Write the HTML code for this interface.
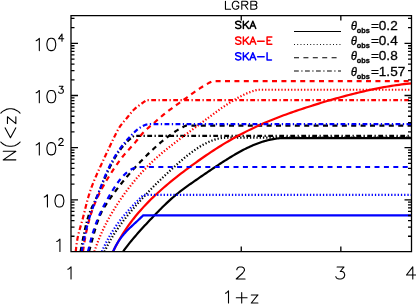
<!DOCTYPE html><html><head><meta charset="utf-8"><style>html,body{margin:0;padding:0;background:#fff;}svg{display:block;will-change:transform;}text{font-family:"Liberation Sans",sans-serif;}</style></head><body>
<svg width="416" height="304" viewBox="0 0 416 304">
<rect width="416" height="304" fill="#fff"/>
<defs><clipPath id="c"><rect x="71.0" y="15.6" width="340.5" height="236.4"/></clipPath></defs>
<g clip-path="url(#c)" fill="none" stroke-width="2.2" stroke-linejoin="round">
<path d="M123.10,251.60 L124.45,249.72 L125.80,247.89 L127.16,246.10 L128.51,244.36 L129.86,242.66 L131.21,240.99 L132.56,239.36 L133.92,237.75 L135.27,236.17 L136.62,234.61 L137.97,233.07 L139.33,231.55 L140.68,230.05 L142.03,228.56 L143.38,227.08 L144.73,225.62 L146.09,224.17 L147.44,222.72 L148.79,221.28 L150.14,219.85 L151.49,218.43 L152.85,217.01 L154.20,215.59 L155.55,214.19 L156.90,212.79 L158.25,211.40 L159.61,210.03 L160.96,208.67 L162.31,207.33 L163.66,206.00 L165.02,204.69 L166.37,203.40 L167.72,202.13 L169.07,200.88 L170.42,199.65 L171.78,198.44 L173.13,197.25 L174.48,196.09 L175.83,194.95 L177.18,193.84 L178.54,192.75 L179.89,191.68 L181.24,190.64 L182.59,189.61 L183.94,188.60 L185.30,187.60 L186.65,186.62 L188.00,185.65 L189.35,184.69 L190.71,183.74 L192.06,182.79 L193.41,181.85 L194.76,180.92 L196.11,179.98 L197.47,179.05 L198.82,178.12 L200.17,177.20 L201.52,176.27 L202.87,175.34 L204.23,174.41 L205.58,173.49 L206.93,172.56 L208.28,171.64 L209.63,170.72 L210.99,169.81 L212.34,168.90 L213.69,167.99 L215.04,167.09 L216.39,166.19 L217.75,165.30 L219.10,164.41 L220.45,163.53 L221.80,162.66 L223.16,161.79 L224.51,160.93 L225.86,160.07 L227.21,159.22 L228.56,158.38 L229.92,157.55 L231.27,156.73 L232.62,155.91 L233.97,155.11 L235.32,154.31 L236.68,153.53 L238.03,152.76 L239.38,152.01 L240.73,151.26 L242.08,150.54 L243.44,149.83 L244.79,149.13 L246.14,148.45 L247.49,147.79 L248.85,147.15 L250.20,146.52 L251.55,145.91 L252.90,145.32 L254.25,144.76 L255.61,144.21 L256.96,143.68 L258.31,143.18 L259.66,142.69 L261.01,142.23 L262.37,141.79 L263.72,141.37 L265.07,140.97 L266.42,140.60 L267.77,140.26 L269.13,139.93 L270.48,139.63 L271.83,139.36 L273.18,139.11 L274.54,138.89 L275.89,138.69 L277.24,138.52 L278.59,138.37 L279.94,138.25 L281.30,138.16 L282.65,138.10 L284.00,138.06 L411.50,138.06" stroke="#000"/>
<path d="M104.50,251.60 L105.52,249.45 L106.54,247.38 L107.56,245.39 L108.58,243.47 L109.61,241.62 L110.63,239.82 L111.65,238.07 L112.67,236.38 L113.69,234.73 L114.71,233.12 L115.73,231.55 L116.75,230.02 L117.77,228.52 L118.79,227.06 L119.82,225.62 L120.84,224.21 L121.86,222.82 L122.88,221.46 L123.90,220.12 L124.92,218.80 L125.94,217.50 L126.96,216.22 L127.98,214.95 L129.00,213.70 L130.03,212.46 L131.05,211.24 L132.07,210.03 L133.09,208.83 L134.11,207.64 L135.13,206.46 L136.15,205.30 L137.17,204.14 L138.19,202.99 L139.21,201.85 L140.24,200.71 L141.26,199.59 L142.28,198.47 L143.30,197.35 L144.32,196.25 L145.34,195.14 L146.36,194.05 L147.38,192.96 L148.40,191.88 L149.42,190.80 L150.45,189.73 L151.47,188.67 L152.49,187.62 L153.51,186.58 L154.53,185.54 L155.55,184.51 L156.57,183.49 L157.59,182.48 L158.61,181.48 L159.63,180.48 L160.66,179.50 L161.68,178.52 L162.70,177.55 L163.72,176.59 L164.74,175.63 L165.76,174.68 L166.78,173.73 L167.80,172.78 L168.82,171.84 L169.84,170.90 L170.87,169.97 L171.89,169.03 L172.91,168.09 L173.93,167.16 L174.95,166.23 L175.97,165.31 L176.99,164.39 L178.01,163.48 L179.03,162.58 L180.05,161.68 L181.08,160.79 L182.10,159.91 L183.12,159.04 L184.14,158.19 L185.16,157.34 L186.18,156.50 L187.20,155.68 L188.22,154.87 L189.24,154.07 L190.26,153.29 L191.29,152.52 L192.31,151.76 L193.33,151.02 L194.35,150.30 L195.37,149.59 L196.39,148.89 L197.41,148.22 L198.43,147.56 L199.45,146.92 L200.47,146.29 L201.50,145.68 L202.52,145.09 L203.54,144.52 L204.56,143.97 L205.58,143.43 L206.60,142.92 L207.62,142.43 L208.64,141.95 L209.66,141.50 L210.68,141.07 L211.71,140.67 L212.73,140.28 L213.75,139.93 L214.77,139.59 L215.79,139.29 L216.81,139.00 L217.83,138.75 L218.85,138.52 L219.87,138.31 L220.89,138.14 L221.92,137.99 L222.94,137.87 L223.96,137.78 L224.98,137.72 L226.00,137.69 L411.50,137.69" stroke="#000" stroke-dasharray="1.3 1.95"/>
<path d="M89.00,251.60 L89.82,248.81 L90.63,245.84 L91.45,242.80 L92.26,239.74 L93.08,236.71 L93.89,233.75 L94.71,230.88 L95.52,228.12 L96.34,225.48 L97.15,222.97 L97.97,220.61 L98.78,218.40 L99.60,216.34 L100.41,214.44 L101.23,212.69 L102.04,211.08 L102.86,209.58 L103.67,208.16 L104.49,206.82 L105.30,205.54 L106.12,204.29 L106.93,203.07 L107.75,201.86 L108.56,200.67 L109.38,199.49 L110.19,198.33 L111.01,197.17 L111.82,196.03 L112.64,194.90 L113.45,193.79 L114.27,192.68 L115.08,191.59 L115.90,190.50 L116.71,189.43 L117.53,188.36 L118.34,187.31 L119.16,186.26 L119.97,185.23 L120.79,184.20 L121.61,183.19 L122.42,182.18 L123.24,181.18 L124.05,180.19 L124.87,179.20 L125.68,178.23 L126.50,177.26 L127.31,176.30 L128.13,175.35 L128.94,174.40 L129.76,173.47 L130.57,172.54 L131.39,171.61 L132.20,170.69 L133.02,169.78 L133.83,168.88 L134.65,167.98 L135.46,167.09 L136.28,166.20 L137.09,165.32 L137.91,164.45 L138.72,163.58 L139.54,162.72 L140.35,161.86 L141.17,161.01 L141.98,160.16 L142.80,159.32 L143.61,158.49 L144.43,157.66 L145.24,156.83 L146.06,156.01 L146.87,155.20 L147.69,154.40 L148.50,153.60 L149.32,152.80 L150.13,152.02 L150.95,151.24 L151.76,150.46 L152.58,149.70 L153.39,148.94 L154.21,148.19 L155.03,147.45 L155.84,146.71 L156.66,145.98 L157.47,145.26 L158.29,144.55 L159.10,143.84 L159.92,143.14 L160.73,142.46 L161.55,141.77 L162.36,141.10 L163.18,140.43 L163.99,139.78 L164.81,139.13 L165.62,138.48 L166.44,137.85 L167.25,137.23 L168.07,136.61 L168.88,136.00 L169.70,135.40 L170.51,134.80 L171.33,134.22 L172.14,133.64 L172.96,133.08 L173.77,132.52 L174.59,131.98 L175.40,131.44 L176.22,130.91 L177.03,130.40 L177.85,129.90 L178.66,129.41 L179.48,128.93 L180.29,128.46 L181.11,128.01 L181.92,127.57 L182.74,127.15 L183.55,126.73 L184.37,126.33 L185.18,125.95 L186.00,125.58 L411.50,125.58" stroke="#000" stroke-dasharray="5 4.4"/>
<path d="M80.50,251.60 L80.95,249.38 L81.40,247.08 L81.85,244.74 L82.30,242.40 L82.75,240.06 L83.20,237.76 L83.65,235.51 L84.10,233.31 L84.55,231.18 L85.00,229.12 L85.45,227.13 L85.89,225.23 L86.34,223.42 L86.79,221.69 L87.24,220.05 L87.69,218.49 L88.14,217.02 L88.59,215.65 L89.04,214.35 L89.49,213.14 L89.94,211.98 L90.39,210.88 L90.84,209.82 L91.29,208.80 L91.74,207.80 L92.19,206.83 L92.64,205.87 L93.09,204.93 L93.54,203.99 L93.99,203.05 L94.44,202.11 L94.89,201.16 L95.34,200.21 L95.79,199.25 L96.24,198.27 L96.68,197.28 L97.13,196.27 L97.58,195.25 L98.03,194.21 L98.48,193.16 L98.93,192.10 L99.38,191.04 L99.83,189.96 L100.28,188.89 L100.73,187.81 L101.18,186.73 L101.63,185.66 L102.08,184.58 L102.53,183.51 L102.98,182.45 L103.43,181.39 L103.88,180.33 L104.33,179.29 L104.78,178.25 L105.23,177.22 L105.68,176.20 L106.13,175.19 L106.58,174.19 L107.03,173.20 L107.47,172.22 L107.92,171.26 L108.37,170.31 L108.82,169.36 L109.27,168.43 L109.72,167.52 L110.17,166.61 L110.62,165.72 L111.07,164.84 L111.52,163.98 L111.97,163.12 L112.42,162.28 L112.87,161.45 L113.32,160.64 L113.77,159.84 L114.22,159.05 L114.67,158.27 L115.12,157.51 L115.57,156.76 L116.02,156.02 L116.47,155.30 L116.92,154.59 L117.37,153.89 L117.82,153.21 L118.26,152.54 L118.71,151.88 L119.16,151.23 L119.61,150.60 L120.06,149.97 L120.51,149.37 L120.96,148.77 L121.41,148.19 L121.86,147.61 L122.31,147.05 L122.76,146.50 L123.21,145.96 L123.66,145.44 L124.11,144.92 L124.56,144.41 L125.01,143.92 L125.46,143.43 L125.91,142.96 L126.36,142.49 L126.81,142.03 L127.26,141.59 L127.71,141.15 L128.16,140.72 L128.61,140.30 L129.05,139.89 L129.50,139.49 L129.95,139.09 L130.40,138.71 L130.85,138.33 L131.30,137.96 L131.75,137.60 L132.20,137.25 L132.65,136.90 L133.10,136.56 L133.55,136.23 L134.00,135.91 L411.50,135.91" stroke="#000" stroke-dasharray="4.8 2.45 1.3 2.45"/>
<path d="M113.10,251.60 L115.61,246.56 L118.12,241.88 L120.62,237.51 L123.13,233.42 L125.64,229.57 L128.15,225.93 L130.65,222.48 L133.16,219.19 L135.67,216.06 L138.18,213.05 L140.68,210.16 L143.19,207.38 L145.70,204.70 L148.21,202.11 L150.71,199.59 L153.22,197.15 L155.73,194.78 L158.24,192.46 L160.74,190.20 L163.25,188.00 L165.76,185.84 L168.27,183.72 L170.77,181.65 L173.28,179.61 L175.79,177.60 L178.30,175.63 L180.80,173.69 L183.31,171.77 L185.82,169.88 L188.33,168.02 L190.83,166.17 L193.34,164.35 L195.85,162.54 L198.36,160.75 L200.86,158.98 L203.37,157.23 L205.88,155.51 L208.39,153.81 L210.89,152.13 L213.40,150.48 L215.91,148.86 L218.42,147.26 L220.93,145.70 L223.43,144.16 L225.94,142.65 L228.45,141.18 L230.96,139.73 L233.46,138.31 L235.97,136.92 L238.48,135.56 L240.99,134.22 L243.49,132.92 L246.00,131.63 L248.51,130.38 L251.02,129.15 L253.52,127.95 L256.03,126.77 L258.54,125.62 L261.05,124.49 L263.55,123.38 L266.06,122.31 L268.57,121.25 L271.08,120.21 L273.58,119.20 L276.09,118.21 L278.60,117.23 L281.11,116.28 L283.61,115.34 L286.12,114.42 L288.63,113.51 L291.14,112.62 L293.64,111.74 L296.15,110.88 L298.66,110.03 L301.17,109.19 L303.67,108.36 L306.18,107.54 L308.69,106.73 L311.20,105.93 L313.71,105.14 L316.21,104.36 L318.72,103.58 L321.23,102.82 L323.74,102.06 L326.24,101.31 L328.75,100.56 L331.26,99.83 L333.77,99.11 L336.27,98.39 L338.78,97.69 L341.29,97.00 L343.80,96.32 L346.30,95.65 L348.81,94.99 L351.32,94.34 L353.83,93.71 L356.33,93.09 L358.84,92.48 L361.35,91.89 L363.86,91.31 L366.36,90.74 L368.87,90.19 L371.38,89.65 L373.89,89.13 L376.39,88.63 L378.90,88.14 L381.41,87.66 L383.92,87.20 L386.42,86.76 L388.93,86.33 L391.44,85.93 L393.95,85.53 L396.45,85.16 L398.96,84.80 L401.47,84.46 L403.98,84.14 L406.48,83.84 L408.99,83.55 L411.50,83.29" stroke="#f00"/>
<path d="M94.40,251.60 L95.77,247.54 L97.14,243.74 L98.51,240.17 L99.88,236.80 L101.25,233.60 L102.62,230.55 L103.99,227.65 L105.36,224.86 L106.74,222.18 L108.11,219.60 L109.48,217.11 L110.85,214.69 L112.22,212.35 L113.59,210.08 L114.96,207.86 L116.33,205.70 L117.70,203.60 L119.07,201.53 L120.44,199.51 L121.81,197.53 L123.18,195.59 L124.55,193.68 L125.92,191.81 L127.29,189.97 L128.66,188.17 L130.04,186.40 L131.41,184.66 L132.78,182.95 L134.15,181.27 L135.52,179.63 L136.89,178.01 L138.26,176.43 L139.63,174.87 L141.00,173.34 L142.37,171.84 L143.74,170.37 L145.11,168.92 L146.48,167.50 L147.85,166.10 L149.22,164.73 L150.59,163.38 L151.96,162.06 L153.34,160.76 L154.71,159.49 L156.08,158.24 L157.45,157.01 L158.82,155.80 L160.19,154.61 L161.56,153.43 L162.93,152.28 L164.30,151.14 L165.67,150.01 L167.04,148.90 L168.41,147.79 L169.78,146.70 L171.15,145.62 L172.52,144.55 L173.89,143.48 L175.26,142.42 L176.64,141.37 L178.01,140.33 L179.38,139.29 L180.75,138.25 L182.12,137.22 L183.49,136.19 L184.86,135.17 L186.23,134.15 L187.60,133.13 L188.97,132.11 L190.34,131.09 L191.71,130.08 L193.08,129.06 L194.45,128.05 L195.82,127.03 L197.19,126.02 L198.56,125.01 L199.94,123.99 L201.31,122.98 L202.68,121.96 L204.05,120.95 L205.42,119.93 L206.79,118.91 L208.16,117.89 L209.53,116.87 L210.90,115.85 L212.27,114.84 L213.64,113.83 L215.01,112.82 L216.38,111.82 L217.75,110.84 L219.12,109.86 L220.49,108.89 L221.86,107.93 L223.24,106.98 L224.61,106.05 L225.98,105.12 L227.35,104.22 L228.72,103.33 L230.09,102.45 L231.46,101.59 L232.83,100.75 L234.20,99.93 L235.57,99.12 L236.94,98.34 L238.31,97.58 L239.68,96.83 L241.05,96.12 L242.42,95.43 L243.79,94.76 L245.16,94.12 L246.54,93.51 L247.91,92.93 L249.28,92.38 L250.65,91.86 L252.02,91.38 L253.39,90.92 L254.76,90.50 L256.13,90.12 L257.50,89.77 L411.50,89.77" stroke="#f00" stroke-dasharray="1.3 1.95"/>
<path d="M83.00,251.60 L84.09,244.00 L85.18,237.52 L86.26,231.91 L87.35,226.98 L88.44,222.60 L89.53,218.65 L90.62,215.05 L91.71,211.74 L92.79,208.67 L93.88,205.79 L94.97,203.09 L96.06,200.54 L97.15,198.11 L98.24,195.79 L99.32,193.56 L100.41,191.42 L101.50,189.35 L102.59,187.34 L103.68,185.38 L104.76,183.48 L105.85,181.61 L106.94,179.78 L108.03,177.99 L109.12,176.22 L110.21,174.48 L111.29,172.76 L112.38,171.07 L113.47,169.41 L114.56,167.78 L115.65,166.18 L116.74,164.61 L117.82,163.08 L118.91,161.58 L120.00,160.11 L121.09,158.68 L122.18,157.29 L123.26,155.93 L124.35,154.61 L125.44,153.33 L126.53,152.08 L127.62,150.85 L128.71,149.65 L129.79,148.45 L130.88,147.26 L131.97,146.06 L133.06,144.85 L134.15,143.62 L135.24,142.36 L136.32,141.08 L137.41,139.76 L138.50,138.41 L139.59,137.03 L140.68,135.64 L141.76,134.28 L142.85,133.01 L143.94,131.83 L145.03,130.75 L146.12,129.73 L147.21,128.77 L148.29,127.84 L149.38,126.93 L150.47,126.02 L151.56,125.10 L152.65,124.16 L153.74,123.20 L154.82,122.23 L155.91,121.25 L157.00,120.27 L158.09,119.30 L159.18,118.34 L160.26,117.41 L161.35,116.49 L162.44,115.59 L163.53,114.70 L164.62,113.83 L165.71,112.97 L166.79,112.12 L167.88,111.28 L168.97,110.45 L170.06,109.63 L171.15,108.82 L172.24,108.02 L173.32,107.22 L174.41,106.43 L175.50,105.64 L176.59,104.86 L177.68,104.08 L178.76,103.31 L179.85,102.54 L180.94,101.76 L182.03,100.99 L183.12,100.21 L184.21,99.43 L185.29,98.64 L186.38,97.85 L187.47,97.06 L188.56,96.27 L189.65,95.48 L190.74,94.70 L191.82,93.91 L192.91,93.13 L194.00,92.36 L195.09,91.60 L196.18,90.84 L197.26,90.10 L198.35,89.36 L199.44,88.64 L200.53,87.93 L201.62,87.23 L202.71,86.55 L203.79,85.89 L204.88,85.24 L205.97,84.60 L207.06,83.99 L208.15,83.39 L209.24,82.81 L210.32,82.26 L211.41,81.72 L212.50,81.20 L411.50,81.20" stroke="#f00" stroke-dasharray="5 4.4"/>
<path d="M75.75,251.60 L76.34,245.94 L76.93,241.69 L77.53,238.32 L78.12,235.53 L78.71,233.08 L79.30,230.85 L79.90,228.73 L80.49,226.66 L81.08,224.59 L81.67,222.50 L82.27,220.36 L82.86,218.16 L83.45,215.90 L84.04,213.56 L84.64,211.17 L85.23,208.78 L85.82,206.41 L86.41,204.08 L87.01,201.81 L87.60,199.62 L88.19,197.51 L88.78,195.49 L89.38,193.56 L89.97,191.73 L90.56,189.98 L91.15,188.30 L91.75,186.67 L92.34,185.10 L92.93,183.58 L93.52,182.10 L94.12,180.65 L94.71,179.23 L95.30,177.83 L95.89,176.46 L96.49,175.11 L97.08,173.77 L97.67,172.45 L98.26,171.14 L98.86,169.83 L99.45,168.54 L100.04,167.25 L100.63,165.96 L101.22,164.68 L101.82,163.40 L102.41,162.12 L103.00,160.85 L103.59,159.57 L104.19,158.30 L104.78,157.03 L105.37,155.76 L105.96,154.49 L106.56,153.23 L107.15,151.97 L107.74,150.71 L108.33,149.46 L108.93,148.21 L109.52,146.96 L110.11,145.71 L110.70,144.47 L111.30,143.23 L111.89,142.00 L112.48,140.76 L113.07,139.53 L113.67,138.31 L114.26,137.09 L114.85,135.87 L115.44,134.67 L116.04,133.48 L116.63,132.33 L117.22,131.20 L117.81,130.11 L118.41,129.06 L119.00,128.06 L119.59,127.10 L120.18,126.20 L120.78,125.35 L121.37,124.55 L121.96,123.78 L122.55,123.05 L123.14,122.33 L123.74,121.64 L124.33,120.95 L124.92,120.27 L125.51,119.60 L126.11,118.91 L126.70,118.22 L127.29,117.51 L127.88,116.79 L128.48,116.05 L129.07,115.29 L129.66,114.54 L130.25,113.79 L130.85,113.05 L131.44,112.33 L132.03,111.63 L132.62,110.97 L133.22,110.35 L133.81,109.75 L134.40,109.19 L134.99,108.65 L135.59,108.13 L136.18,107.63 L136.77,107.16 L137.36,106.69 L137.96,106.24 L138.55,105.80 L139.14,105.37 L139.73,104.94 L140.33,104.52 L140.92,104.10 L141.51,103.68 L142.10,103.25 L142.70,102.83 L143.29,102.40 L143.88,101.96 L144.47,101.51 L145.07,101.05 L145.66,100.58 L146.25,100.10 L411.50,100.10" stroke="#f00" stroke-dasharray="4.8 2.45 1.3 2.45"/>
<path d="M113.10,251.60 L113.35,251.02 L113.60,250.45 L113.86,249.90 L114.11,249.35 L114.36,248.82 L114.61,248.29 L114.86,247.78 L115.12,247.27 L115.37,246.78 L115.62,246.29 L115.87,245.82 L116.13,245.35 L116.38,244.89 L116.63,244.44 L116.88,244.00 L117.13,243.56 L117.39,243.14 L117.64,242.72 L117.89,242.30 L118.14,241.90 L118.39,241.50 L118.65,241.11 L118.90,240.72 L119.15,240.34 L119.40,239.97 L119.65,239.60 L119.91,239.24 L120.16,238.88 L120.41,238.53 L120.66,238.18 L120.92,237.84 L121.17,237.51 L121.42,237.17 L121.67,236.85 L121.92,236.52 L122.18,236.21 L122.43,235.89 L122.68,235.58 L122.93,235.27 L123.18,234.97 L123.44,234.67 L123.69,234.38 L123.94,234.08 L124.19,233.79 L124.44,233.51 L124.70,233.23 L124.95,232.94 L125.20,232.67 L125.45,232.39 L125.71,232.12 L125.96,231.85 L126.21,231.58 L126.46,231.32 L126.71,231.06 L126.97,230.79 L127.22,230.54 L127.47,230.28 L127.72,230.02 L127.97,229.77 L128.23,229.52 L128.48,229.27 L128.73,229.02 L128.98,228.77 L129.23,228.53 L129.49,228.28 L129.74,228.04 L129.99,227.80 L130.24,227.56 L130.49,227.32 L130.75,227.08 L131.00,226.84 L131.25,226.60 L131.50,226.36 L131.76,226.13 L132.01,225.89 L132.26,225.66 L132.51,225.42 L132.76,225.19 L133.02,224.95 L133.27,224.72 L133.52,224.49 L133.77,224.25 L134.02,224.02 L134.28,223.79 L134.53,223.56 L134.78,223.32 L135.03,223.09 L135.28,222.86 L135.54,222.63 L135.79,222.39 L136.04,222.16 L136.29,221.93 L136.55,221.69 L136.80,221.46 L137.05,221.22 L137.30,220.99 L137.55,220.75 L137.81,220.52 L138.06,220.28 L138.31,220.05 L138.56,219.81 L138.81,219.57 L139.07,219.33 L139.32,219.09 L139.57,218.85 L139.82,218.61 L140.07,218.37 L140.33,218.13 L140.58,217.89 L140.83,217.64 L141.08,217.40 L141.34,217.15 L141.59,216.90 L141.84,216.66 L142.09,216.41 L142.34,216.16 L142.60,215.91 L142.85,215.65 L143.10,215.40 L411.50,215.40" stroke="#00f"/>
<path d="M101.90,251.60 L102.25,250.80 L102.60,250.01 L102.95,249.23 L103.30,248.46 L103.65,247.70 L104.00,246.95 L104.35,246.21 L104.70,245.48 L105.05,244.77 L105.40,244.06 L105.75,243.36 L106.09,242.67 L106.44,241.98 L106.79,241.31 L107.14,240.64 L107.49,239.99 L107.84,239.34 L108.19,238.70 L108.54,238.06 L108.89,237.43 L109.24,236.81 L109.59,236.20 L109.94,235.60 L110.29,235.00 L110.64,234.40 L110.99,233.82 L111.34,233.24 L111.69,232.67 L112.04,232.10 L112.39,231.54 L112.74,230.98 L113.09,230.43 L113.44,229.89 L113.79,229.35 L114.14,228.82 L114.48,228.29 L114.83,227.76 L115.18,227.25 L115.53,226.73 L115.88,226.23 L116.23,225.72 L116.58,225.22 L116.93,224.73 L117.28,224.24 L117.63,223.76 L117.98,223.28 L118.33,222.80 L118.68,222.33 L119.03,221.86 L119.38,221.39 L119.73,220.93 L120.08,220.48 L120.43,220.03 L120.78,219.58 L121.13,219.13 L121.48,218.69 L121.83,218.25 L122.18,217.81 L122.53,217.38 L122.87,216.95 L123.22,216.53 L123.57,216.10 L123.92,215.68 L124.27,215.26 L124.62,214.85 L124.97,214.43 L125.32,214.02 L125.67,213.61 L126.02,213.21 L126.37,212.80 L126.72,212.40 L127.07,212.00 L127.42,211.60 L127.77,211.21 L128.12,210.81 L128.47,210.42 L128.82,210.03 L129.17,209.64 L129.52,209.26 L129.87,208.87 L130.22,208.49 L130.57,208.11 L130.92,207.73 L131.26,207.35 L131.61,206.97 L131.96,206.59 L132.31,206.22 L132.66,205.85 L133.01,205.48 L133.36,205.11 L133.71,204.74 L134.06,204.37 L134.41,204.00 L134.76,203.64 L135.11,203.27 L135.46,202.91 L135.81,202.55 L136.16,202.19 L136.51,201.83 L136.86,201.47 L137.21,201.12 L137.56,200.76 L137.91,200.41 L138.26,200.06 L138.61,199.70 L138.96,199.35 L139.31,199.00 L139.65,198.65 L140.00,198.31 L140.35,197.96 L140.70,197.61 L141.05,197.27 L141.40,196.92 L141.75,196.58 L142.10,196.24 L142.45,195.90 L142.80,195.56 L143.15,195.22 L143.50,194.88 L411.50,194.88" stroke="#00f" stroke-dasharray="1.3 1.95"/>
<path d="M88.00,251.60 L88.43,249.71 L88.85,247.87 L89.28,246.08 L89.71,244.35 L90.13,242.67 L90.56,241.03 L90.99,239.43 L91.41,237.88 L91.84,236.38 L92.26,234.91 L92.69,233.48 L93.12,232.08 L93.54,230.72 L93.97,229.40 L94.40,228.10 L94.82,226.84 L95.25,225.61 L95.68,224.41 L96.10,223.24 L96.53,222.09 L96.96,220.97 L97.38,219.88 L97.81,218.81 L98.24,217.77 L98.66,216.74 L99.09,215.74 L99.51,214.76 L99.94,213.80 L100.37,212.85 L100.79,211.93 L101.22,211.01 L101.65,210.12 L102.07,209.24 L102.50,208.37 L102.93,207.52 L103.35,206.68 L103.78,205.85 L104.21,205.03 L104.63,204.23 L105.06,203.43 L105.49,202.65 L105.91,201.87 L106.34,201.10 L106.76,200.34 L107.19,199.58 L107.62,198.83 L108.04,198.09 L108.47,197.35 L108.90,196.62 L109.32,195.89 L109.75,195.16 L110.18,194.44 L110.60,193.73 L111.03,193.01 L111.46,192.30 L111.88,191.60 L112.31,190.90 L112.74,190.21 L113.16,189.52 L113.59,188.84 L114.01,188.17 L114.44,187.51 L114.87,186.85 L115.29,186.20 L115.72,185.56 L116.15,184.93 L116.57,184.31 L117.00,183.70 L117.43,183.09 L117.85,182.50 L118.28,181.92 L118.71,181.34 L119.13,180.78 L119.56,180.22 L119.99,179.68 L120.41,179.15 L120.84,178.63 L121.26,178.12 L121.69,177.62 L122.12,177.13 L122.54,176.65 L122.97,176.18 L123.40,175.73 L123.82,175.28 L124.25,174.85 L124.68,174.43 L125.10,174.02 L125.53,173.62 L125.96,173.23 L126.38,172.86 L126.81,172.49 L127.24,172.14 L127.66,171.80 L128.09,171.47 L128.51,171.15 L128.94,170.84 L129.37,170.55 L129.79,170.27 L130.22,170.00 L130.65,169.74 L131.07,169.49 L131.50,169.25 L131.93,169.03 L132.35,168.81 L132.78,168.61 L133.21,168.42 L133.63,168.24 L134.06,168.08 L134.49,167.92 L134.91,167.78 L135.34,167.65 L135.76,167.52 L136.19,167.41 L136.62,167.32 L137.04,167.23 L137.47,167.15 L137.90,167.09 L138.32,167.04 L138.75,166.99 L411.50,166.99" stroke="#00f" stroke-dasharray="5 4.4"/>
<path d="M81.70,251.60 L82.28,248.50 L82.85,245.48 L83.43,242.55 L84.00,239.71 L84.58,236.97 L85.16,234.33 L85.73,231.78 L86.31,229.34 L86.88,226.99 L87.46,224.74 L88.04,222.58 L88.61,220.51 L89.19,218.53 L89.76,216.64 L90.34,214.84 L90.92,213.11 L91.49,211.44 L92.07,209.83 L92.64,208.26 L93.22,206.72 L93.80,205.21 L94.37,203.71 L94.95,202.22 L95.53,200.74 L96.10,199.26 L96.68,197.77 L97.25,196.28 L97.83,194.77 L98.41,193.26 L98.98,191.73 L99.56,190.21 L100.13,188.68 L100.71,187.17 L101.29,185.66 L101.86,184.16 L102.44,182.67 L103.01,181.20 L103.59,179.75 L104.17,178.33 L104.74,176.92 L105.32,175.54 L105.89,174.18 L106.47,172.84 L107.05,171.54 L107.62,170.26 L108.20,169.01 L108.77,167.79 L109.35,166.59 L109.93,165.43 L110.50,164.28 L111.08,163.17 L111.65,162.08 L112.23,161.01 L112.81,159.96 L113.38,158.94 L113.96,157.94 L114.53,156.96 L115.11,156.00 L115.69,155.06 L116.26,154.14 L116.84,153.24 L117.42,152.36 L117.99,151.49 L118.57,150.65 L119.14,149.82 L119.72,149.01 L120.30,148.21 L120.87,147.44 L121.45,146.67 L122.02,145.92 L122.60,145.19 L123.18,144.47 L123.75,143.76 L124.33,143.06 L124.90,142.37 L125.48,141.69 L126.06,141.03 L126.63,140.37 L127.21,139.71 L127.78,139.07 L128.36,138.43 L128.94,137.80 L129.51,137.18 L130.09,136.56 L130.66,135.95 L131.24,135.35 L131.82,134.76 L132.39,134.17 L132.97,133.60 L133.54,133.04 L134.12,132.48 L134.70,131.94 L135.27,131.42 L135.85,130.90 L136.42,130.40 L137.00,129.92 L137.58,129.45 L138.15,128.99 L138.73,128.55 L139.31,128.13 L139.88,127.73 L140.46,127.34 L141.03,126.97 L141.61,126.63 L142.19,126.30 L142.76,125.99 L143.34,125.71 L143.91,125.45 L144.49,125.20 L145.07,124.99 L145.64,124.79 L146.22,124.62 L146.79,124.47 L147.37,124.35 L147.95,124.25 L148.52,124.17 L149.10,124.12 L149.67,124.10 L150.25,124.10 L411.50,124.10" stroke="#00f" stroke-dasharray="4.8 2.45 1.3 2.45"/>
</g>
<path d="M71.0,15.6 H411.5 V251.6 H71.0 Z M241.25,251.6 v-5 M241.25,15.6 v5 M340.84,251.6 v-5 M340.84,15.6 v5 M71.0,251.60 h7 M411.5,251.60 h-7 M71.0,236.25 h3.5 M411.5,236.25 h-3.5 M71.0,227.07 h3.5 M411.5,227.07 h-3.5 M71.0,220.55 h3.5 M411.5,220.55 h-3.5 M71.0,215.50 h3.5 M411.5,215.50 h-3.5 M71.0,211.37 h3.5 M411.5,211.37 h-3.5 M71.0,207.88 h3.5 M411.5,207.88 h-3.5 M71.0,204.85 h3.5 M411.5,204.85 h-3.5 M71.0,202.19 h3.5 M411.5,202.19 h-3.5 M71.0,199.80 h7 M411.5,199.80 h-7 M71.0,184.10 h3.5 M411.5,184.10 h-3.5 M71.0,174.92 h3.5 M411.5,174.92 h-3.5 M71.0,168.40 h3.5 M411.5,168.40 h-3.5 M71.0,163.35 h3.5 M411.5,163.35 h-3.5 M71.0,159.22 h3.5 M411.5,159.22 h-3.5 M71.0,155.73 h3.5 M411.5,155.73 h-3.5 M71.0,152.70 h3.5 M411.5,152.70 h-3.5 M71.0,150.04 h3.5 M411.5,150.04 h-3.5 M71.0,147.65 h7 M411.5,147.65 h-7 M71.0,131.95 h3.5 M411.5,131.95 h-3.5 M71.0,122.77 h3.5 M411.5,122.77 h-3.5 M71.0,116.25 h3.5 M411.5,116.25 h-3.5 M71.0,111.20 h3.5 M411.5,111.20 h-3.5 M71.0,107.07 h3.5 M411.5,107.07 h-3.5 M71.0,103.58 h3.5 M411.5,103.58 h-3.5 M71.0,100.55 h3.5 M411.5,100.55 h-3.5 M71.0,97.89 h3.5 M411.5,97.89 h-3.5 M71.0,95.50 h7 M411.5,95.50 h-7 M71.0,79.80 h3.5 M411.5,79.80 h-3.5 M71.0,70.62 h3.5 M411.5,70.62 h-3.5 M71.0,64.10 h3.5 M411.5,64.10 h-3.5 M71.0,59.05 h3.5 M411.5,59.05 h-3.5 M71.0,54.92 h3.5 M411.5,54.92 h-3.5 M71.0,51.43 h3.5 M411.5,51.43 h-3.5 M71.0,48.40 h3.5 M411.5,48.40 h-3.5 M71.0,45.74 h3.5 M411.5,45.74 h-3.5 M71.0,43.35 h7 M411.5,43.35 h-7 M71.0,27.65 h3.5 M411.5,27.65 h-3.5 M71.0,18.47 h3.5 M411.5,18.47 h-3.5" fill="none" stroke="#000" stroke-width="1.3"/>
<path d="M36.18,40.66 L37.44,40.07 L39.33,38.31 L39.33,50.60 M50.67,38.31 L48.78,38.90 L47.52,40.66 L46.89,43.58 L46.89,45.34 L47.52,48.26 L48.78,50.02 L50.67,50.60 L51.93,50.60 L53.82,50.02 L55.08,48.26 L55.71,45.34 L55.71,43.58 L55.08,40.66 L53.82,38.90 L51.93,38.31 L50.67,38.31 M62.02,34.11 L58.62,38.80 L63.72,38.80 M62.02,34.11 L62.02,41.15 M36.18,92.81 L37.44,92.22 L39.33,90.47 L39.33,102.75 M50.67,90.47 L48.78,91.05 L47.52,92.81 L46.89,95.73 L46.89,97.48 L47.52,100.41 L48.78,102.17 L50.67,102.75 L51.93,102.75 L53.82,102.17 L55.08,100.41 L55.71,97.48 L55.71,95.73 L55.08,92.81 L53.82,91.05 L51.93,90.47 L50.67,90.47 M59.30,86.27 L63.04,86.27 L61.00,88.95 L62.02,88.95 L62.70,89.28 L63.04,89.62 L63.38,90.62 L63.38,91.29 L63.04,92.30 L62.36,92.97 L61.34,93.30 L60.32,93.30 L59.30,92.97 L58.96,92.63 L58.62,91.96 M36.18,144.96 L37.44,144.37 L39.33,142.62 L39.33,154.90 M50.67,142.62 L48.78,143.20 L47.52,144.96 L46.89,147.88 L46.89,149.64 L47.52,152.56 L48.78,154.31 L50.67,154.90 L51.93,154.90 L53.82,154.31 L55.08,152.56 L55.71,149.64 L55.71,147.88 L55.08,144.96 L53.82,143.20 L51.93,142.62 L50.67,142.62 M58.96,140.09 L58.96,139.76 L59.30,139.09 L59.64,138.75 L60.32,138.42 L61.68,138.42 L62.36,138.75 L62.70,139.09 L63.04,139.76 L63.04,140.43 L62.70,141.10 L62.02,142.10 L58.62,145.45 L63.38,145.45 M44.28,197.10 L45.54,196.52 L47.43,194.76 L47.43,207.05 M58.77,194.76 L56.88,195.35 L55.62,197.10 L54.99,200.03 L54.99,201.78 L55.62,204.71 L56.88,206.46 L58.77,207.05 L60.03,207.05 L61.92,206.46 L63.18,204.71 L63.81,201.78 L63.81,200.03 L63.18,197.10 L61.92,195.35 L60.03,194.76 L58.77,194.76 M56.78,241.50 L58.04,240.92 L59.93,239.16 L59.93,251.45 M67.88,269.23 L69.14,268.65 L71.03,266.93 L71.03,279.00 M236.87,269.80 L236.87,269.23 L237.50,268.07 L238.13,267.50 L239.39,266.93 L241.91,266.93 L243.17,267.50 L243.80,268.07 L244.43,269.23 L244.43,270.38 L243.80,271.52 L242.54,273.25 L236.24,279.00 L245.06,279.00 M337.09,266.93 L344.02,266.93 L340.24,271.52 L342.13,271.52 L343.39,272.10 L344.02,272.68 L344.65,274.40 L344.65,275.55 L344.02,277.27 L342.76,278.43 L340.87,279.00 L338.98,279.00 L337.09,278.43 L336.46,277.85 L335.83,276.70 M412.79,266.93 L406.49,274.98 L415.94,274.98 M412.79,266.93 L412.79,279.00 M225.50,293.23 L226.70,292.65 L228.50,290.93 L228.50,303.00 M241.70,292.65 L241.70,303.00 M236.30,297.82 L247.10,297.82 M257.90,294.95 L251.30,303.00 M251.30,294.95 L257.90,294.95 M251.30,303.00 L257.90,303.00 M3.25,159.84 L15.85,159.84 M3.25,159.84 L15.85,151.23 M3.25,151.23 L15.85,151.23 M0.85,142.01 L2.05,143.24 L3.85,144.47 L6.25,145.70 L9.25,146.31 L11.65,146.31 L14.65,145.70 L17.05,144.47 L18.85,143.24 L20.05,142.01 M5.05,127.86 L10.45,137.70 L15.85,127.86 M7.45,116.79 L15.85,123.56 M7.45,123.56 L7.45,116.79 M15.85,123.56 L15.85,116.79 M0.85,113.10 L2.05,111.87 L3.85,110.64 L6.25,109.41 L9.25,108.80 L11.65,108.80 L14.65,109.41 L17.05,110.64 L18.85,111.87 L20.05,113.10 M225.45,1.22 L225.45,9.20 M225.45,9.20 L230.61,9.20 M238.78,3.12 L238.35,2.36 L237.49,1.60 L236.63,1.22 L234.91,1.22 L234.05,1.60 L233.19,2.36 L232.76,3.12 L232.33,4.26 L232.33,6.16 L232.76,7.30 L233.19,8.06 L234.05,8.82 L234.91,9.20 L236.63,9.20 L237.49,8.82 L238.35,8.06 L238.78,7.30 L238.78,6.16 M236.63,6.16 L238.78,6.16 M241.79,1.22 L241.79,9.20 M241.79,1.22 L245.66,1.22 L246.95,1.60 L247.38,1.98 L247.81,2.74 L247.81,3.50 L247.38,4.26 L246.95,4.64 L245.66,5.02 L241.79,5.02 M244.80,5.02 L247.81,9.20 M250.82,1.22 L250.82,9.20 M250.82,1.22 L254.69,1.22 L255.98,1.60 L256.41,1.98 L256.84,2.74 L256.84,3.50 L256.41,4.26 L255.98,4.64 L254.69,5.02 M250.82,5.02 L254.69,5.02 L255.98,5.40 L256.41,5.78 L256.84,6.54 L256.84,7.68 L256.41,8.44 L255.98,8.82 L254.69,9.20 L250.82,9.20" fill="none" stroke="#000" stroke-width="1.1" stroke-linecap="round" stroke-linejoin="round"/>
<path d="M240.81,22.33 L240.07,21.65 L238.98,21.31 L237.52,21.31 L236.42,21.65 L235.69,22.33 L235.69,23.01 L236.06,23.69 L236.42,24.03 L237.16,24.37 L239.34,25.05 L240.07,25.39 L240.44,25.73 L240.81,26.41 L240.81,27.43 L240.07,28.11 L238.98,28.45 L237.52,28.45 L236.42,28.11 L235.69,27.43 M243.36,21.31 L243.36,28.45 M248.47,21.31 L243.36,26.07 M245.19,24.37 L248.47,28.45 M252.85,21.31 L249.93,28.45 M252.85,21.31 L255.77,28.45 M251.03,26.07 L254.67,26.07" fill="none" stroke="#000" stroke-width="1.5" stroke-linecap="round" stroke-linejoin="round"/>
<path d="M240.81,38.08 L240.07,37.40 L238.98,37.06 L237.52,37.06 L236.42,37.40 L235.69,38.08 L235.69,38.76 L236.06,39.44 L236.42,39.78 L237.16,40.12 L239.34,40.80 L240.07,41.14 L240.44,41.48 L240.81,42.16 L240.81,43.18 L240.07,43.86 L238.98,44.20 L237.52,44.20 L236.42,43.86 L235.69,43.18 M243.36,37.06 L243.36,44.20 M248.47,37.06 L243.36,41.82 M245.19,40.12 L248.47,44.20 M252.85,37.06 L249.93,44.20 M252.85,37.06 L255.77,44.20 M251.03,41.82 L254.67,41.82 M257.59,41.14 L264.16,41.14 M267.08,37.06 L267.08,44.20 M267.08,37.06 L271.83,37.06 M267.08,40.46 L270.00,40.46 M267.08,44.20 L271.83,44.20" fill="none" stroke="#f00" stroke-width="1.5" stroke-linecap="round" stroke-linejoin="round"/>
<path d="M240.81,53.78 L240.07,53.10 L238.98,52.76 L237.52,52.76 L236.42,53.10 L235.69,53.78 L235.69,54.46 L236.06,55.14 L236.42,55.48 L237.16,55.82 L239.34,56.50 L240.07,56.84 L240.44,57.18 L240.81,57.86 L240.81,58.88 L240.07,59.56 L238.98,59.90 L237.52,59.90 L236.42,59.56 L235.69,58.88 M243.36,52.76 L243.36,59.90 M248.47,52.76 L243.36,57.52 M245.19,55.82 L248.47,59.90 M252.85,52.76 L249.93,59.90 M252.85,52.76 L255.77,59.90 M251.03,57.52 L254.67,57.52 M257.59,56.84 L264.16,56.84 M267.08,52.76 L267.08,59.90 M267.08,59.90 L271.46,59.90" fill="none" stroke="#00f" stroke-width="1.5" stroke-linecap="round" stroke-linejoin="round"/>
<path d="M294,31.5 H341" stroke="#000" stroke-width="1.1" fill="none"/>
<text x="351.0" y="29.7" font-size="12" font-style="italic" stroke="#000" stroke-width="0.4" textLength="5.9" lengthAdjust="spacingAndGlyphs">θ</text>
<text x="356.8" y="32.6" font-size="7.2" font-weight="bold" stroke="#000" stroke-width="0.3" textLength="13" lengthAdjust="spacingAndGlyphs">obs</text>
<text x="370.9" y="29.7" font-size="12.6" stroke="#000" stroke-width="0.3" textLength="26.81" lengthAdjust="spacingAndGlyphs">=0.2</text>
<path d="M294,44.5 H341" stroke="#000" stroke-width="1.1" fill="none" stroke-dasharray="0.9 2.35"/>
<text x="351.0" y="44.7" font-size="12" font-style="italic" stroke="#000" stroke-width="0.4" textLength="5.9" lengthAdjust="spacingAndGlyphs">θ</text>
<text x="356.8" y="47.6" font-size="7.2" font-weight="bold" stroke="#000" stroke-width="0.3" textLength="13" lengthAdjust="spacingAndGlyphs">obs</text>
<text x="370.9" y="44.7" font-size="12.6" stroke="#000" stroke-width="0.3" textLength="26.81" lengthAdjust="spacingAndGlyphs">=0.4</text>
<path d="M294,57.75 H341" stroke="#000" stroke-width="1.1" fill="none" stroke-dasharray="5 4.4"/>
<text x="351.0" y="60.2" font-size="12" font-style="italic" stroke="#000" stroke-width="0.4" textLength="5.9" lengthAdjust="spacingAndGlyphs">θ</text>
<text x="356.8" y="63.1" font-size="7.2" font-weight="bold" stroke="#000" stroke-width="0.3" textLength="13" lengthAdjust="spacingAndGlyphs">obs</text>
<text x="370.9" y="60.2" font-size="12.6" stroke="#000" stroke-width="0.3" textLength="26.81" lengthAdjust="spacingAndGlyphs">=0.8</text>
<path d="M294,71.0 H341" stroke="#000" stroke-width="1.1" fill="none" stroke-dasharray="4.8 2.45 1.3 2.45"/>
<text x="351.0" y="75.6" font-size="12" font-style="italic" stroke="#000" stroke-width="0.4" textLength="5.9" lengthAdjust="spacingAndGlyphs">θ</text>
<text x="356.8" y="78.5" font-size="7.2" font-weight="bold" stroke="#000" stroke-width="0.3" textLength="13" lengthAdjust="spacingAndGlyphs">obs</text>
<text x="370.9" y="75.6" font-size="12.6" stroke="#000" stroke-width="0.3" textLength="34.36" lengthAdjust="spacingAndGlyphs">=1.57</text>
</svg></body></html>
